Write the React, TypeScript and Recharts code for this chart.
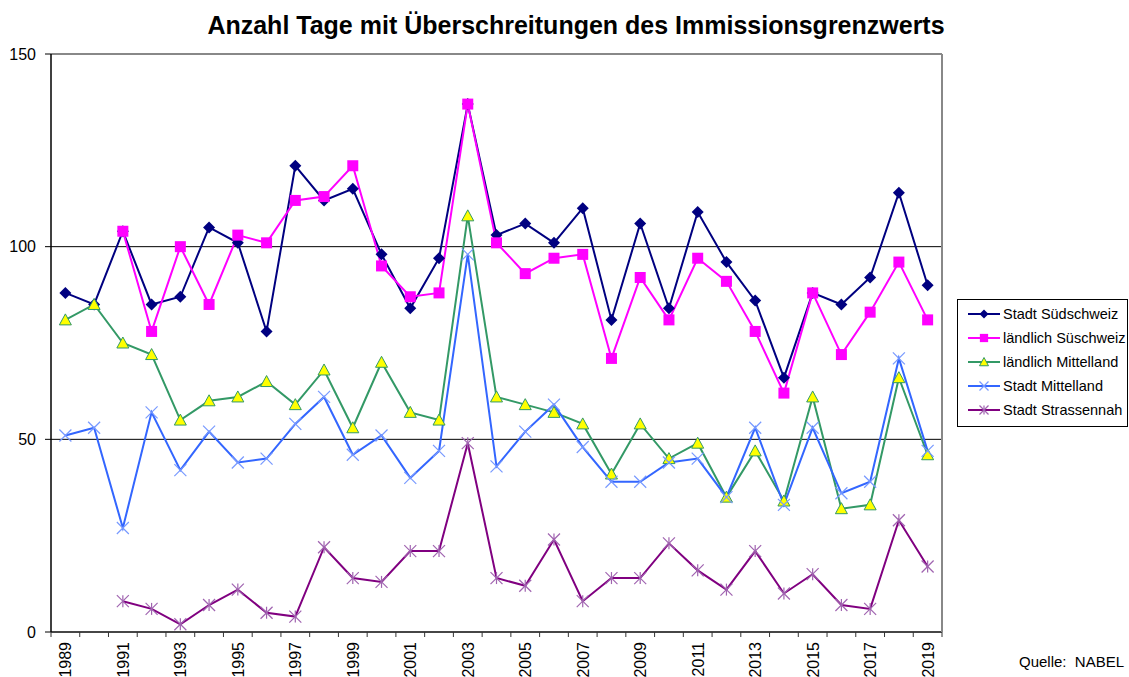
import React from 'react'
import {
  LineChart, Line, XAxis, YAxis, CartesianGrid, ReferenceLine,
} from 'recharts'

const years = [
  1989, 1990, 1991, 1992, 1993, 1994, 1995, 1996, 1997, 1998, 1999,
  2000, 2001, 2002, 2003, 2004, 2005, 2006, 2007, 2008, 2009,
  2010, 2011, 2012, 2013, 2014, 2015, 2016, 2017, 2018, 2019,
]

const stadtSuedschweiz = [
  88, 85, 104, 85, 87, 105, 101, 78, 121, 112, 115,
  98, 84, 97, 137, 103, 106, 101, 110, 81, 106,
  84, 109, 96, 86, 66, 88, 85, 92, 114, 90,
]
const laendlichSueschweiz = [
  null, null, 104, 78, 100, 85, 103, 101, 112, 113, 121,
  95, 87, 88, 137, 101, 93, 97, 98, 71, 92,
  81, 97, 91, 78, 62, 88, 72, 83, 96, 81,
]
const laendlichMittelland = [
  81, 85, 75, 72, 55, 60, 61, 65, 59, 68, 53,
  70, 57, 55, 108, 61, 59, 57, 54, 41, 54,
  45, 49, 35, 47, 34, 61, 32, 33, 66, 46,
]
const stadtMittelland = [
  51, 53, 27, 57, 42, 52, 44, 45, 54, 61, 46,
  51, 40, 47, 98, 43, 52, 59, 48, 39, 39,
  44, 45, 35, 53, 33, 53, 36, 39, 71, 47,
]
const stadtStrassennah = [
  null, null, 8, 6, 2, 7, 11, 5, 4, 22, 14,
  13, 21, 21, 49, 14, 12, 24, 8, 14, 14,
  23, 16, 11, 21, 10, 15, 7, 6, 29, 17,
]

const yTicks = [0, 50, 100, 150]

const FONT = '"Liberation Sans", Arial, sans-serif'

type Marker = 'diamond' | 'square' | 'triangle' | 'cross' | 'star'

const series: { key: string; name: string; color: string; marker: Marker; values: (number | null)[] }[] = [
  { key: 'sSued', name: 'Stadt Südschweiz', color: '#000080', marker: 'diamond', values: stadtSuedschweiz },
  { key: 'lSued', name: 'ländlich Süschweiz', color: '#FF00FF', marker: 'square', values: laendlichSueschweiz },
  { key: 'lMitt', name: 'ländlich Mittelland', color: '#339966', marker: 'triangle', values: laendlichMittelland },
  { key: 'sMitt', name: 'Stadt Mittelland', color: '#3366FF', marker: 'cross', values: stadtMittelland },
  { key: 'sStr', name: 'Stadt Strassennah', color: '#800080', marker: 'star', values: stadtStrassennah },
]

const data = years.map((year, i) => {
  const row: Record<string, number | null> = { year }
  series.forEach(s => { row[s.key] = s.values[i] })
  return row
})

// ticks: category boundaries (tick marks) + odd years (labels)
const xTicks: number[] = []
years.forEach(y => {
  xTicks.push(y - 0.5)
  if (y % 2 === 1) xTicks.push(y)
})
xTicks.push(years[years.length - 1] + 0.5)

function MarkerShape({ type, cx, cy, scale = 1 }: { type: Marker; cx: number; cy: number; scale?: number }) {
  const r = 6 * scale
  switch (type) {
    case 'diamond':
      return <path d={`M${cx},${cy - r}L${cx + r},${cy}L${cx},${cy + r}L${cx - r},${cy}Z`} fill="#000080" />
    case 'square':
      return <rect x={cx - 5.5 * scale} y={cy - 5.5 * scale} width={11 * scale} height={11 * scale} fill="#FF00FF" />
    case 'triangle':
      return (
        <path d={`M${cx},${cy - r}L${cx + r},${cy + 5 * scale}L${cx - r},${cy + 5 * scale}Z`}
          fill="#FFFF00" stroke="#339966" strokeWidth={1} />
      )
    case 'cross':
      return (
        <g stroke="#7799FF" strokeWidth={1.2}>
          <line x1={cx - r} y1={cy - r} x2={cx + r} y2={cy + r} />
          <line x1={cx - r} y1={cy + r} x2={cx + r} y2={cy - r} />
        </g>
      )
    case 'star':
      return (
        <g stroke="#A064B0" strokeWidth={1.2}>
          <line x1={cx - r} y1={cy - r} x2={cx + r} y2={cy + r} />
          <line x1={cx - r} y1={cy + r} x2={cx + r} y2={cy - r} />
          <line x1={cx} y1={cy - r} x2={cx} y2={cy + r} />
        </g>
      )
  }
  return null
}

function dotFor(type: Marker) {
  return (props: any) => {
    const { cx, cy, index } = props
    if (cx == null || cy == null || props.value == null) return <g key={`d-${index}`} />
    return (
      <g key={`d-${index}`}>
        <MarkerShape type={type} cx={cx} cy={cy} />
      </g>
    )
  }
}

function XTick(props: any) {
  const { x, y, payload } = props
  const v = payload.value as number
  const axisY = y - 8
  if (!Number.isInteger(v)) {
    return <line x1={x} y1={axisY} x2={x} y2={axisY + 5} stroke="#333" strokeWidth={1} />
  }
  return (
    <text transform={`translate(${x + 6},${axisY + 10}) rotate(-90)`} textAnchor="end"
      fontSize={16} fontFamily={FONT} fill="#000">
      {v}
    </text>
  )
}

function LegendBox() {
  return (
    <svg width={172} height={129} style={{ display: 'block' }}>
      <rect x={0.5} y={0.5} width={170} height={127} fill="#fff" stroke="#000" strokeWidth={1} />
      {series.map((s, i) => {
        const y = 15 + i * 24
        return (
          <g key={s.key}>
            <line x1={11} y1={y} x2={43} y2={y} stroke={s.color} strokeWidth={2} />
            <MarkerShape type={s.marker} cx={27} cy={y} scale={0.75} />
            <text x={46} y={y + 5} fontSize={14.5} fontFamily={FONT} fill="#000">{s.name}</text>
          </g>
        )
      })}
    </svg>
  )
}

export default function App() {
  return (
    <div style={{ position: 'absolute', left: 0, top: 0, width: 1129, height: 677, background: '#fff', overflow: 'hidden', fontFamily: FONT }}>
      <div style={{ position: 'absolute', left: 0, width: 1152, top: 11, textAlign: 'center', fontSize: 25, fontWeight: 'bold' }}>
        Anzahl Tage mit Überschreitungen des Immissionsgrenzwerts
      </div>
      <LineChart width={1129} height={677} data={data}
        margin={{ top: 54, right: 186, left: 6, bottom: 5 }}>
        <CartesianGrid vertical={false} stroke="#000" strokeWidth={1} />
        <XAxis dataKey="year" type="number" domain={[1988.5, 2019.5]} ticks={xTicks} interval={0}
          tickLine={false} tick={<XTick />} height={40} axisLine={{ stroke: '#333', strokeWidth: 1.5 }} />
        <YAxis domain={[0, 150]} ticks={yTicks} width={45} tickSize={6} tickMargin={9}
          axisLine={{ stroke: '#000', strokeWidth: 1.5 }} tickLine={{ stroke: '#000' }}
          tick={{ fontSize: 16, fill: '#000', fontFamily: FONT }} />
        <YAxis yAxisId="right" orientation="right" width={1} tick={false} tickLine={false}
          axisLine={{ stroke: '#888', strokeWidth: 2 }} />
        <ReferenceLine y={150} stroke="#888" strokeWidth={2} />
        {series.map(s => (
          <Line key={s.key} dataKey={s.key} name={s.name} stroke={s.color} strokeWidth={2}
            dot={dotFor(s.marker)} activeDot={false} isAnimationActive={false} />
        ))}
      </LineChart>
      <div style={{ position: 'absolute', left: 957, top: 299 }}>
        <LegendBox />
      </div>
      <div style={{ position: 'absolute', left: 1019, top: 653, fontSize: 15 }}>Quelle:&nbsp; NABEL</div>
    </div>
  )
}
